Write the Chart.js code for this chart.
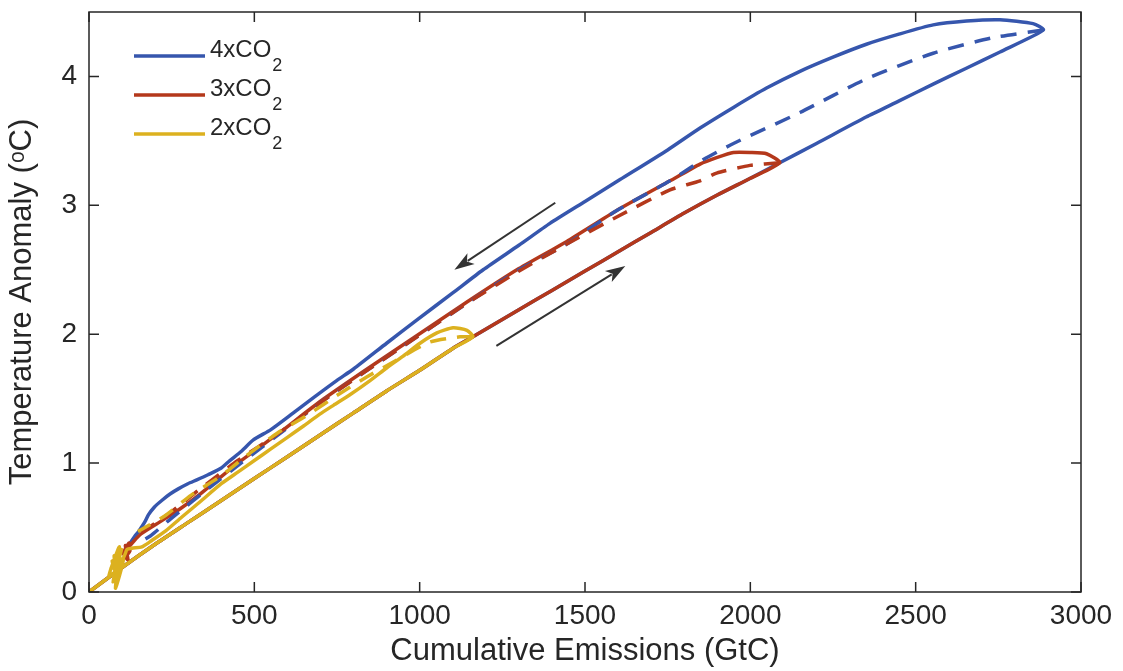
<!DOCTYPE html>
<html>
<head>
<meta charset="utf-8">
<script src="https://cdn.jsdelivr.net/npm/chart.js@4.4.1/dist/chart.umd.min.js"></script>
<style>
  html, body { margin: 0; background: #fff; }
  #wrap { width: 1123px; height: 671px; }
</style>
</head>
<body>
<div id="wrap"><canvas id="chart"></canvas></div>
<script>
// shared ramp-up path (cumulative emissions GtC, temperature anomaly)
const rampUpE = [0, 100, 200, 300, 400, 500, 600, 700, 800, 900, 1000, 1100, 1161,
  1300, 1400, 1500, 1600, 1700, 1800, 1900, 2000, 2089,
  2200, 2350, 2450, 2553, 2650, 2755, 2886];
const rampUpT = [0, 0.19, 0.37, 0.54, 0.71, 0.88, 1.05, 1.22, 1.39, 1.56, 1.72, 1.89, 1.98,
  2.19, 2.34, 2.49, 2.64, 2.79, 2.94, 3.08, 3.21, 3.33,
  3.48, 3.685, 3.81, 3.94, 4.06, 4.19, 4.36];

// ramp-down branches (solid)
const x4DownE = [2855, 2755, 2654, 2553, 2452, 2351, 2250, 2150, 2049, 1949, 1848, 1750, 1606, 1500, 1394,
  1300, 1192, 1100, 991, 900, 800, 749, 680, 618, 550, 497, 460, 426, 399, 360, 326, 299, 270, 245,
  220, 198, 180, 168, 150, 138, 125, 112];
const x4DownT = [4.41, 4.44, 4.43, 4.40, 4.33, 4.25, 4.15, 4.04, 3.91, 3.76, 3.60, 3.43, 3.20, 3.03, 2.86,
  2.69, 2.50, 2.32, 2.11, 1.93, 1.73, 1.64, 1.51, 1.39, 1.26, 1.18, 1.09, 1.02, 0.96, 0.91, 0.87, 0.84, 0.80, 0.76,
  0.71, 0.66, 0.60, 0.54, 0.47, 0.43, 0.38, 0.32];

const x3DownE = [2049, 1999, 1949, 1898, 1848, 1757, 1596, 1445, 1294, 1143, 992, 841, 700, 578, 450, 336,
  278, 218, 157, 118, 108, 121, 104, 118, 110, 124, 112];
const x3DownT = [3.40, 3.41, 3.41, 3.37, 3.32, 3.19, 2.96, 2.72, 2.50, 2.25, 1.99, 1.73, 1.48, 1.24, 1.00, 0.76,
  0.65, 0.55, 0.45, 0.34, 0.27, 0.38, 0.30, 0.25, 0.36, 0.32, 0.28];

const x2DownE = [1143, 1101, 1052, 1001, 950, 901, 850, 789, 740, 698, 650, 600, 550, 500, 450, 400, 336,
  280, 230, 190, 160, 130, 115, 110, 72, 98, 66, 104, 80, 92, 60, 100, 76, 88, 70, 95, 82];
const x2DownT = [2.03, 2.05, 2.01, 1.93, 1.83, 1.74, 1.64, 1.53, 1.45, 1.38, 1.29, 1.20, 1.11, 1.02, 0.93, 0.84, 0.70,
  0.58, 0.47, 0.40, 0.35, 0.34, 0.33, 0.30, 0.08, 0.33, 0.18, 0.26, 0.03, 0.35, 0.12, 0.22, 0.28, 0.10, 0.24, 0.16, 0.20];

// dashed curves
const x4DashE = [2886, 2733, 2553, 2350, 2150, 1949, 1848, 1757, 1596, 1445, 1294, 1143, 992, 841, 700, 578, 475, 360, 248, 188, 150];
const x4DashT = [4.36, 4.30, 4.18, 3.98, 3.72, 3.48, 3.34, 3.19, 2.96, 2.70, 2.49, 2.24, 1.98, 1.72, 1.47, 1.23, 1.03, 0.80, 0.57, 0.44, 0.38];

const x3DashE = [2089, 1999, 1898, 1848, 1757, 1596, 1445, 1294, 1143, 992, 841, 700, 578, 450, 336, 248, 180, 140];
const x3DashT = [3.33, 3.31, 3.25, 3.19, 3.12, 2.91, 2.70, 2.48, 2.24, 1.98, 1.72, 1.47, 1.24, 1.02, 0.80, 0.62, 0.50, 0.44];

const x2DashE = [1161, 1122, 1031, 931, 841, 759, 659, 568, 477, 399, 308, 229, 148];
const x2DashT = [1.98, 1.98, 1.94, 1.80, 1.67, 1.54, 1.37, 1.23, 1.06, 0.90, 0.75, 0.59, 0.47];

const xTicks = [0, 500, 1000, 1500, 2000, 2500, 3000];
const yTicks = [0, 1, 2, 3, 4];

const blue = '#3656ad';
const red = '#b4381b';
const yellow = '#dcb11f';
const ink = '#262626';
const family = '"Liberation Sans", Arial, sans-serif';

function pts(es, ts) {
  return es.map((e, i) => ({ x: e, y: ts[i] }));
}
function loop(peakE, downE, downT) {
  const n = rampUpE.indexOf(peakE) + 1;
  return pts(rampUpE.slice(0, n).concat(downE), rampUpT.slice(0, n).concat(downT));
}

const lineBase = { pointRadius: 0, borderWidth: 3.5, tension: 0.2, fill: false, borderCapStyle: 'butt' };

// frame, inward ticks, arrows and legend
const decorations = {
  id: 'decorations',
  afterDatasetsDraw(chart) {
    const { ctx, chartArea: a, scales: { x, y } } = chart;
    ctx.save();
    ctx.strokeStyle = ink;
    ctx.lineWidth = 1.5;
    ctx.strokeRect(a.left, a.top, a.right - a.left, a.bottom - a.top);
    const tl = 10;
    ctx.beginPath();
    xTicks.forEach(v => {
      const px = x.getPixelForValue(v);
      ctx.moveTo(px, a.bottom); ctx.lineTo(px, a.bottom - tl);
      ctx.moveTo(px, a.top); ctx.lineTo(px, a.top + tl);
    });
    yTicks.forEach(v => {
      const py = y.getPixelForValue(v);
      ctx.moveTo(a.left, py); ctx.lineTo(a.left + tl, py);
      ctx.moveTo(a.right, py); ctx.lineTo(a.right - tl, py);
    });
    ctx.stroke();

    // arrows
    const arrow = (e0, t0, e1, t1) => {
      const x0 = x.getPixelForValue(e0), y0 = y.getPixelForValue(t0);
      const x1 = x.getPixelForValue(e1), y1 = y.getPixelForValue(t1);
      const ang = Math.atan2(y1 - y0, x1 - x0);
      const hl = 20, hw = 6.5;
      ctx.strokeStyle = '#333';
      ctx.fillStyle = '#333';
      ctx.lineWidth = 2;
      ctx.beginPath();
      ctx.moveTo(x0, y0);
      ctx.lineTo(x1 - Math.cos(ang) * hl * 0.8, y1 - Math.sin(ang) * hl * 0.8);
      ctx.stroke();
      ctx.beginPath();
      ctx.moveTo(x1, y1);
      ctx.lineTo(x1 - Math.cos(ang) * hl - Math.sin(ang) * hw, y1 - Math.sin(ang) * hl + Math.cos(ang) * hw);
      ctx.lineTo(x1 - Math.cos(ang) * hl * 0.75, y1 - Math.sin(ang) * hl * 0.75);
      ctx.lineTo(x1 - Math.cos(ang) * hl + Math.sin(ang) * hw, y1 - Math.sin(ang) * hl - Math.cos(ang) * hw);
      ctx.closePath();
      ctx.fill();
    };
    arrow(1410, 3.02, 1105, 2.50);
    arrow(1232, 1.91, 1622, 2.53);

    // legend with subscripts
    const items = [['4', blue], ['3', red], ['2', yellow]];
    items.forEach(([k, c], i) => {
      const ly = 56 + i * 39;
      ctx.strokeStyle = c;
      ctx.lineWidth = 3.5;
      ctx.beginPath();
      ctx.moveTo(134, ly); ctx.lineTo(205, ly);
      ctx.stroke();
      ctx.fillStyle = ink;
      ctx.textBaseline = 'alphabetic';
      ctx.textAlign = 'left';
      ctx.font = '24px ' + family;
      const main = k + 'xCO';
      ctx.fillText(main, 210, ly + 1);
      const w = ctx.measureText(main).width;
      ctx.font = '18px ' + family;
      ctx.fillText('2', 210 + w + 1, ly + 15);
    });
    ctx.restore();
  }
};

const noPad = s => { s.paddingTop = 0; s.paddingBottom = 0; s.paddingLeft = 0; s.paddingRight = 0; };

new Chart(document.getElementById('chart'), {
  type: 'line',
  data: {
    datasets: [
      { ...lineBase, label: '2xCO2', data: loop(1161, x2DownE, x2DownT), borderColor: yellow, order: 0 },
      { ...lineBase, label: '2xCO2 dashed', data: pts(x2DashE, x2DashT), borderColor: yellow, borderDash: [16, 11], order: 1 },
      { ...lineBase, label: '3xCO2 dashed', data: pts(x3DashE, x3DashT), borderColor: red, borderDash: [16, 11], order: 2 },
      { ...lineBase, label: '4xCO2 dashed', data: pts(x4DashE, x4DashT), borderColor: blue, borderDash: [16, 11], order: 3 },
      { ...lineBase, label: '3xCO2', data: loop(2089, x3DownE, x3DownT), borderColor: red, order: 4 },
      { ...lineBase, label: '4xCO2', data: loop(2886, x4DownE, x4DownT), borderColor: blue, order: 5 }
    ]
  },
  options: {
    responsive: true,
    maintainAspectRatio: false,
    animation: false,
    layout: { padding: { top: 12, right: 42, left: 0, bottom: 0 } },
    plugins: {
      legend: { display: false },
      tooltip: { enabled: false }
    },
    scales: {
      x: {
        type: 'linear',
        min: 0,
        max: 3000,
        afterFit: s => { s.height = 79; noPad(s); },
        afterBuildTicks: s => { s.ticks = xTicks.map(v => ({ value: v })); },
        grid: { display: false, drawTicks: false },
        border: { display: false },
        ticks: { color: ink, padding: 7, callback: v => String(v), font: { family: family, size: 28 } },
        title: {
          display: true,
          text: 'Cumulative Emissions (GtC)',
          color: ink,
          padding: { bottom: 1 },
          font: { family: family, size: 31 }
        }
      },
      y: {
        min: 0,
        max: 4.5,
        afterFit: s => { s.width = 89; noPad(s); },
        afterBuildTicks: s => { s.ticks = yTicks.map(v => ({ value: v })); },
        grid: { display: false, drawTicks: false },
        border: { display: false },
        ticks: { color: ink, padding: 12, callback: v => String(v), font: { family: family, size: 28 } },
        title: {
          display: true,
          text: 'Temperature Anomaly (ᵒC)',
          color: ink,
          padding: { top: 4 },
          font: { family: family, size: 31 }
        }
      }
    }
  },
  plugins: [decorations]
});
</script>
</body>
</html>
